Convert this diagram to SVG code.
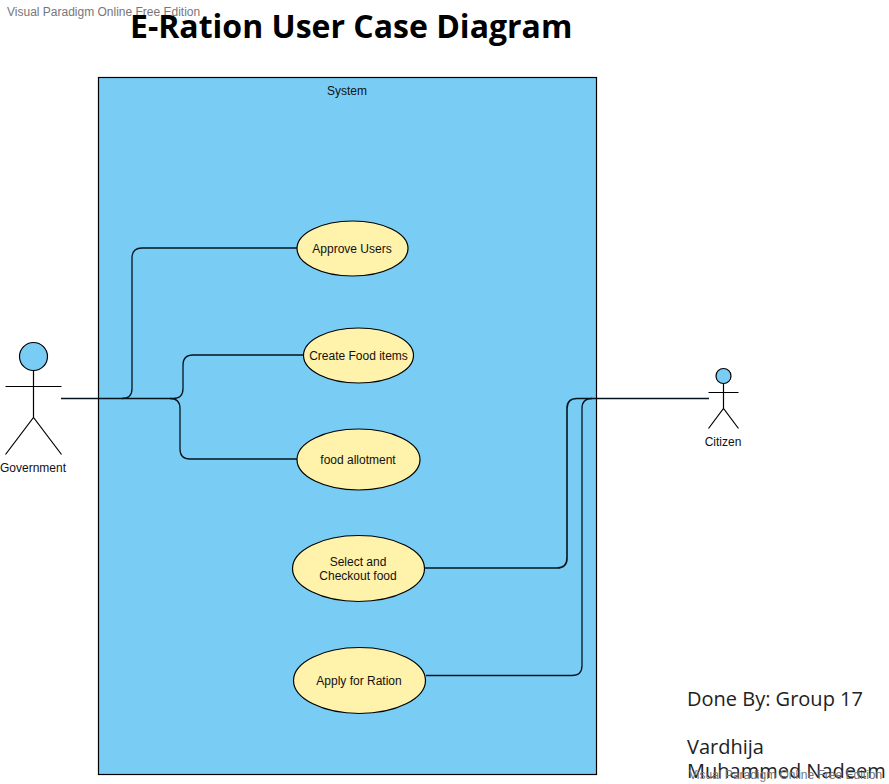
<svg xmlns="http://www.w3.org/2000/svg" width="889" height="784" viewBox="0 0 889 784">
<style>
.l{fill:none;stroke:#000;stroke-width:1.2}
.c{fill:none;stroke:#05141f;stroke-width:1.6}
.u{fill:#fff2ab;stroke:#000;stroke-width:1.2}
.a{fill:#79cdf5;stroke:#000;stroke-width:1.2}
.t{font-family:"Liberation Sans",Arial,sans-serif;font-size:12px;fill:#111;text-anchor:middle}
.w{font-family:"Liberation Sans",Arial,sans-serif;font-size:12px;fill:#777}
.o{font-family:"Open Sans","Noto Sans",sans-serif;font-size:20px;fill:#222}
</style>
<rect width="889" height="784" fill="#fff"/>
<g id="system"><rect x="98.500" y="77.500" width="498" height="697" class="a"/><text x="347" y="95" class="t">System</text></g>
<g id="connectors">
<path class="c" style="stroke-width:1.3" d="M61 398.500H122Q132 398.500 132 388.500V258Q132 248 142 248H297"/>
<path class="c" style="stroke-width:1.3" d="M122 398.500H173Q183 398.500 183 388.500V365Q183 355 193 355H303"/>
<path class="c" style="stroke-width:1.3" d="M170 398.500Q180 398.500 180 408.500V449Q180 459 190 459H297"/>
<path class="c" d="M425 568H557Q567 568 567 558V408.500Q567 398.500 577 398.500H709"/>
<path class="c" style="stroke-width:1.3" d="M426 675.500H572Q582 675.500 582 665.500V408.500Q582 398.500 592 398.500"/>
</g>
<g id="government"><circle cx="33.500" cy="356.500" r="14" class="a"/><path class="l" d="M33.500 370.500V417.500M5.500 386.500H61.500M5.500 454.500L33.500 417.500L61.500 454.500"/><text x="33" y="472" class="t">Government</text></g>
<g id="citizen"><circle cx="723.500" cy="376" r="7.500" class="a"/><path class="l" d="M723.500 383.500V408.500M708.500 392.500H738.500M708.500 428.500L723.500 408.500L738.500 428.500"/><text x="723" y="446" class="t">Citizen</text></g>
<g id="approve"><ellipse cx="352.500" cy="248.500" rx="55.500" ry="27.500" class="u"/><text x="352" y="253" class="t">Approve Users</text></g>
<g id="create"><ellipse cx="358.500" cy="355.500" rx="55" ry="27.500" class="u"/><text x="358.500" y="360" class="t">Create Food items</text></g>
<g id="allot"><ellipse cx="358.500" cy="459.500" rx="61.500" ry="30.500" class="u"/><text x="358" y="464" class="t">food allotment</text></g>
<g id="checkout"><ellipse cx="358.500" cy="568.500" rx="66" ry="33" class="u"/><text x="358" y="566" class="t">Select and</text><text x="358" y="580" class="t">Checkout food</text></g>
<g id="apply"><ellipse cx="359.500" cy="680.500" rx="66" ry="33" class="u"/><text x="359" y="685" class="t">Apply for Ration</text></g>
<text x="7" y="16" class="w">Visual Paradigm Online Free Edition</text>
<text x="130" y="38" font-family="'Open Sans','Noto Sans',sans-serif" font-size="32" font-weight="700" fill="#000">E-Ration User Case Diagram</text>
<text x="687" y="706" class="o">Done By: Group 17</text>
<text x="687" y="754" class="o">Vardhija</text>
<text x="687" y="778" class="o">Muhammed Nadeem</text>
<text x="689" y="779" class="w">Visual Paradigm Online Free Edition</text>
</svg>
